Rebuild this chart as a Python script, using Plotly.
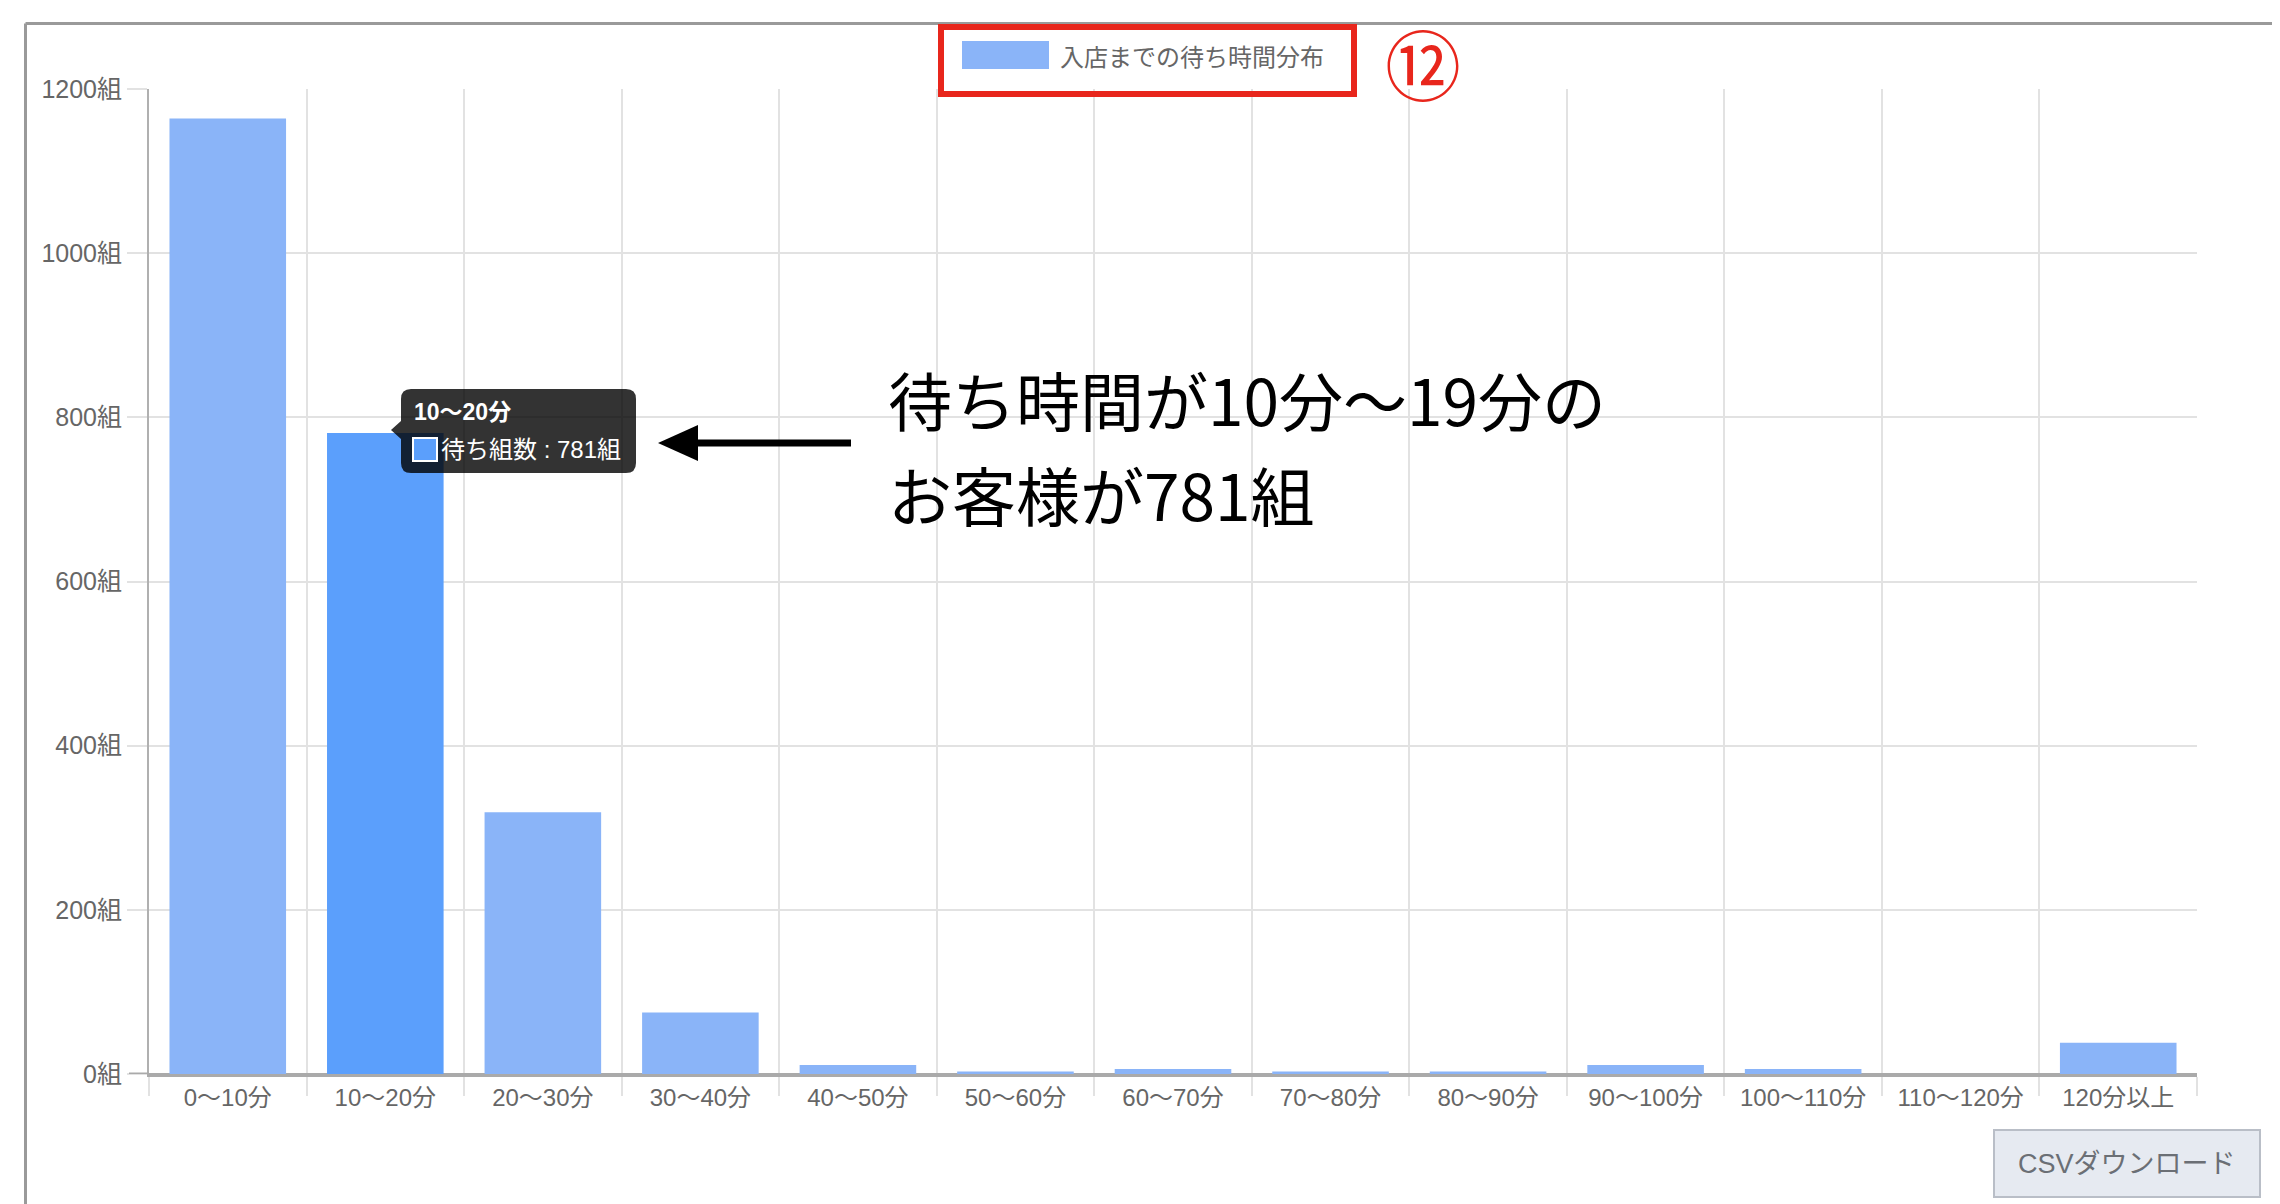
import plotly.graph_objects as go

# ---- data ----
categories = ["0〜10分", "10〜20分", "20〜30分", "30〜40分", "40〜50分", "50〜60分",
              "60〜70分", "70〜80分", "80〜90分", "90〜100分", "100〜110分", "110〜120分", "120分以上"]
counts = [1164, 781, 319, 75, 11, 3, 6, 3, 3, 11, 6, 0, 38]
y_tickvals = [0, 200, 400, 600, 800, 1000, 1200]
y_ticktext = [f"{v}組" for v in y_tickvals]
series_name = "入店までの待ち時間分布"
tooltip_series = "待ち組数"
highlight_index = 1

W, H = 2280, 1204
L, R, T, B = 141, 2189, 81, 1066

def px(x):
    return (x - L) / (R - L)

def py(y):
    return (B - y) / (B - T)

BAR = "#8ab4f8"
BAR_HI = "#5b9ffc"
colors = [BAR_HI if i == highlight_index else BAR for i in range(len(categories))]

FONT = "Liberation Sans, Noto Sans CJK JP, sans-serif"
CJK = "Noto Sans CJK JP, sans-serif"

fig = go.Figure()
fig.add_trace(go.Bar(x=categories, y=counts, marker=dict(color=colors, line=dict(width=0)),
                     name=series_name, showlegend=False, hoverinfo="skip"))

shapes = []
annotations = []

# page frame
shapes.append(dict(type="line", xref="paper", yref="paper", x0=px(17.5), x1=px(17.5), y0=py(15.5), y1=py(H + 5),
                   line=dict(color="#9a9a9a", width=3)))
shapes.append(dict(type="line", xref="paper", yref="paper", x0=px(17.5), x1=px(W + 5), y0=py(15.5), y1=py(15.5),
                   line=dict(color="#9a9a9a", width=3)))

# zero tick extension
shapes.append(dict(type="line", xref="paper", yref="y", x0=px(121), x1=0, y0=0, y1=0,
                   line=dict(color="#aaaaaa", width=3)))

def P(x, y):
    return f"{px(x):.6f},{py(y):.6f}"

# legend (manual)
shapes.append(dict(type="rect", xref="paper", yref="paper", x0=px(954), x1=px(1041), y0=py(61), y1=py(33),
                   fillcolor=BAR, line=dict(width=0)))
annotations.append(dict(text=series_name, xref="paper", yref="paper", x=px(1050), y=py(47),
                        xanchor="left", yanchor="middle", showarrow=False,
                        font=dict(family=CJK, size=24, color="#666666")))
# red highlight box + number
shapes.append(dict(type="rect", xref="paper", yref="paper", x0=px(933), x1=px(1346), y0=py(86), y1=py(19),
                   fillcolor="rgba(0,0,0,0)", line=dict(color="#e8261c", width=6)))
annotations.append(dict(text="⑫", xref="paper", yref="paper", x=px(1415), y=py(54),
                        xanchor="center", yanchor="middle", showarrow=False,
                        font=dict(family=CJK, size=76, color="#e8261c")))

# tooltip
x1, x2, y1, y2, r = 393, 628, 381, 465, 10
path = (f"M {P(x1 + r, y1)} L {P(x2 - r, y1)} Q {P(x2, y1)} {P(x2, y1 + r)} "
        f"L {P(x2, y2 - r)} Q {P(x2, y2)} {P(x2 - r, y2)} L {P(x1 + r, y2)} Q {P(x1, y2)} {P(x1, y2 - r)} "
        f"L {P(x1, 431)} L {P(383, 422)} L {P(x1, 413)} L {P(x1, y1 + r)} Q {P(x1, y1)} {P(x1 + r, y1)} Z")
shapes.append(dict(type="path", xref="paper", yref="paper", path=path,
                   fillcolor="rgba(0,0,0,0.8)", line=dict(width=0)))
shapes.append(dict(type="rect", xref="paper", yref="paper", x0=px(405), x1=px(429), y0=py(453), y1=py(430),
                   fillcolor=BAR_HI, line=dict(color="white", width=2)))
annotations.append(dict(text=f"<b>{categories[highlight_index]}</b>", xref="paper", yref="paper",
                        x=px(404), y=py(404), xanchor="left", yanchor="middle", showarrow=False,
                        font=dict(family=FONT, size=23, color="white")))
annotations.append(dict(text=f"{tooltip_series} : {counts[highlight_index]}組", xref="paper", yref="paper",
                        x=px(431), y=py(441), xanchor="left", yanchor="middle", showarrow=False,
                        font=dict(family=FONT, size=24, color="white")))

# arrow
shapes.append(dict(type="line", xref="paper", yref="paper", x0=px(843), x1=px(680), y0=py(435), y1=py(435),
                   line=dict(color="black", width=7)))
shapes.append(dict(type="path", xref="paper", yref="paper",
                   path=f"M {P(650, 435)} L {P(690, 417)} L {P(690, 453)} Z",
                   fillcolor="black", line=dict(width=0)))

# big annotation text
annotations.append(dict(text="待ち時間が10分〜19分の", xref="paper", yref="paper", x=px(878), y=py(390),
                        xanchor="left", yanchor="middle", showarrow=False,
                        font=dict(family=CJK, size=64, color="black")))
annotations.append(dict(text=f"お客様が{counts[highlight_index]}組", xref="paper", yref="paper", x=px(878), y=py(485),
                        xanchor="left", yanchor="middle", showarrow=False,
                        font=dict(family=CJK, size=64, color="black")))

# CSV button
shapes.append(dict(type="rect", xref="paper", yref="paper", x0=px(1986), x1=px(2252), y0=py(1189), y1=py(1122),
                   fillcolor="#e6eaf1", line=dict(color="#b9bec7", width=2)))
annotations.append(dict(text="CSVダウンロード", xref="paper", yref="paper", x=px(2119), y=py(1156),
                        xanchor="center", yanchor="middle", showarrow=False,
                        font=dict(family=FONT, size=27, color="#6b6f75")))

fig.update_layout(
    width=W, height=H, autosize=False,
    margin=dict(l=L, r=W - R, t=T, b=H - B, pad=0),
    paper_bgcolor="white", plot_bgcolor="white",
    bargap=0.26,
    showlegend=False,
    hovermode=False,
    shapes=shapes, annotations=annotations,
    xaxis=dict(type="category", range=[-0.5, len(categories) - 0.5], tickson="boundaries",
               showgrid=True, gridcolor="#e2e2e2", gridwidth=2,
               ticks="outside", ticklen=19, tickcolor="#e2e2e2", tickwidth=2,
               showline=True, linecolor="#aaaaaa", linewidth=3,
               tickfont=dict(family=FONT, size=24, color="#666666"), fixedrange=True),
    yaxis=dict(range=[0, 1200], tickvals=y_tickvals, ticktext=y_ticktext,
               showgrid=True, gridcolor="#e2e2e2", gridwidth=2,
               ticks="outside", ticklen=20, tickcolor="#e2e2e2", tickwidth=2,
               showline=True, linecolor="#b0b0b0", linewidth=2,
               zeroline=True, zerolinecolor="#aaaaaa", zerolinewidth=3,
               tickfont=dict(family=FONT, size=25, color="#666666"), fixedrange=True),
)

fig.write_html("out.html")
